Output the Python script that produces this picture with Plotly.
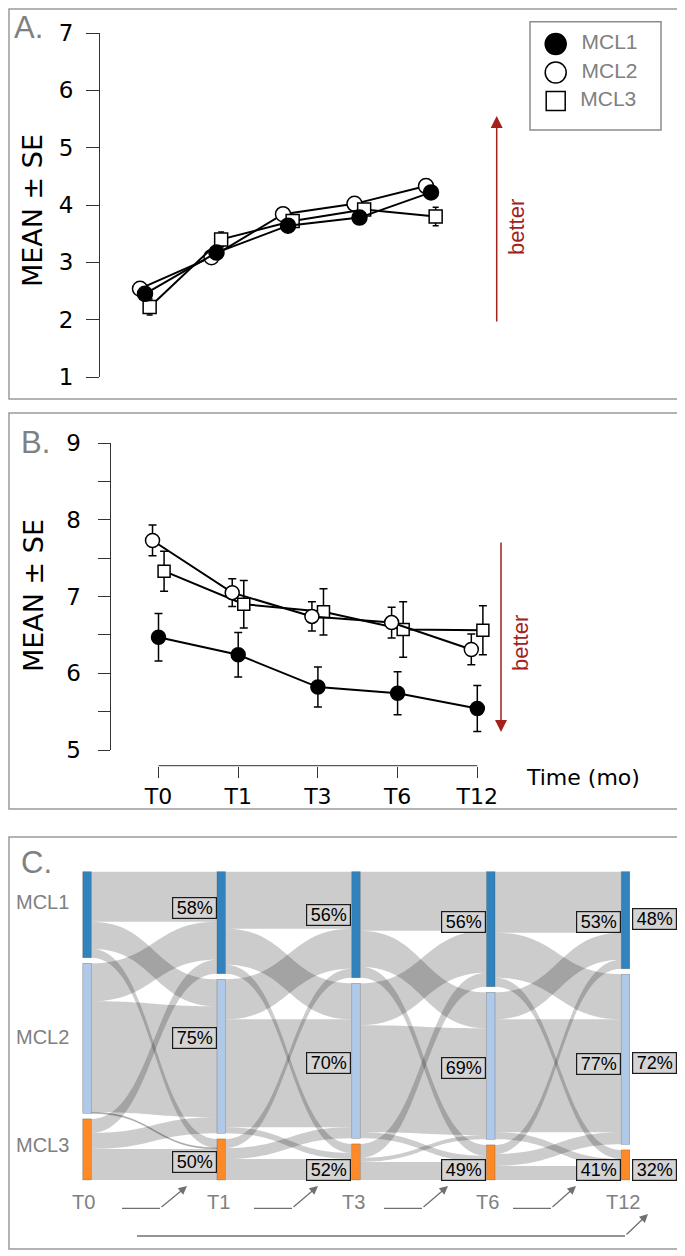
import plotly.graph_objects as go

PAGE_W, PAGE_H = 685, 1256
OFF = 8                      # default page body margin of the html page
W, H = PAGE_W - OFF, PAGE_H - OFF

# ---------------- data ----------------
times = ["T0", "T1", "T3", "T6", "T12"]
clusters = ["MCL1", "MCL2", "MCL3"]

# Panel A (higher = better)
a_mcl1 = [2.45, 3.17, 3.64, 3.78, 4.22]
a_mcl2 = [2.54, 3.09, 3.84, 4.02, 4.33]
a_mcl3 = [2.22, 3.40, 3.72, 3.92, 3.80]
a_se1 = [0.07, 0.06, 0.05, 0.05, 0.06]
a_se2 = [0.06, 0.05, 0.05, 0.05, 0.05]
a_se3 = [0.14, 0.13, 0.08, 0.08, 0.16]

# Panel B (lower = better)
b_mcl1 = [6.47, 6.24, 5.82, 5.74, 5.54]
b_mcl2 = [7.73, 7.05, 6.74, 6.66, 6.31]
b_mcl3 = [7.33, 6.90, 6.80, 6.57, 6.56]
b_se1 = [0.31, 0.29, 0.26, 0.28, 0.30]
b_se2 = [0.20, 0.18, 0.19, 0.20, 0.20]
b_se3 = [0.26, 0.31, 0.30, 0.36, 0.32]

# Panel C: transitions between clusters (rows = from, cols = to)
flow_t0_t1 = [[50, 27, 9], [38, 111, 1], [14, 16, 31]]
flow_t1_t3 = [[57, 36, 9], [40, 108, 6], [9, 11, 21]]
flow_t3_t6 = [[59, 36, 11], [42, 107, 6], [14, 4, 18]]
flow_t6_t12 = [[61, 45, 9], [27, 113, 7], [9, 12, 14]]
flows = [flow_t0_t1, flow_t1_t3, flow_t3_t6, flow_t6_t12]

stay_pct = [[58, 75, 50], [56, 70, 52], [56, 69, 49], [53, 77, 41]]
stay_pct_t0_t12 = [48, 72, 32]

node_colors = ["#3182bd", "#b1c9e9", "#fd8a26"]

# ---------------- helpers (page pixel -> paper fraction) ----------------
def px(x):
    return (x - OFF) / W

def py(y):
    return 1 - (y - OFF) / H

BLACK = "#000000"
AXC = "#333333"
GREY = "#808080"
RED = "#a3201b"
TICKFONT = dict(family="DejaVu Sans", size=23, color=BLACK)

fig = go.Figure()

# ---------------- Panel A ----------------
a_off = {"MCL1": 0.0, "MCL2": -0.07, "MCL3": 0.065}
styles = {
    "MCL1": dict(symbol="circle", color=BLACK, size=15),
    "MCL2": dict(symbol="circle", color="white", size=15),
    "MCL3": dict(symbol="square", color="white", size=13),
}
a_series = [("MCL2", a_mcl2, a_se2), ("MCL3", a_mcl3, a_se3), ("MCL1", a_mcl1, a_se1)]
for name, vals, se in a_series:
    st = styles[name]
    fig.add_trace(go.Scatter(
        x=[i + a_off[name] for i in range(len(times))], y=vals, name=name,
        error_y=dict(type="data", array=se, color=BLACK, thickness=1.5, width=3),
        mode="lines+markers", line=dict(color=BLACK, width=2),
        marker=dict(symbol=st["symbol"], size=st["size"], color=st["color"],
                    line=dict(color=BLACK, width=1.5)),
        showlegend=False, xaxis="x", yaxis="y", hoverinfo="skip"))

# legend (drawn in its own small hidden axes)
fig.add_trace(go.Scatter(
    x=[0, 0, 0], y=[0, 1, 2], mode="markers+text",
    text=["  " + c for c in clusters], textposition="middle right",
    textfont=dict(family="Liberation Sans", size=21, color=GREY),
    marker=dict(symbol=[styles[c]["symbol"] for c in clusters],
                size=[21, 21, 19], color=[styles[c]["color"] for c in clusters],
                opacity=1, line=dict(color=BLACK, width=1.5)),
    showlegend=False, xaxis="x3", yaxis="y3", hoverinfo="skip", cliponaxis=False))

# ---------------- Panel B ----------------
b_off = {"MCL1": 0.0, "MCL2": -0.075, "MCL3": 0.07}
b_series = [("MCL1", b_mcl1, b_se1), ("MCL3", b_mcl3, b_se3), ("MCL2", b_mcl2, b_se2)]
for name, vals, se in b_series:
    st = styles[name]
    fig.add_trace(go.Scatter(
        x=[i + b_off[name] for i in range(len(times))], y=vals, name=name,
        error_y=dict(type="data", array=se, color=BLACK, thickness=1.5, width=4),
        mode="lines+markers", line=dict(color=BLACK, width=2),
        marker=dict(symbol=st["symbol"], size=st["size"] - 1, color=st["color"],
                    line=dict(color=BLACK, width=1.5)),
        showlegend=False, xaxis="x2", yaxis="y2", hoverinfo="skip"))

# ---------------- Panel C: Sankey ----------------
n_t = len(times)
n_c = len(clusters)
col_values = [[sum(r) for r in flows[0]]]
for f in flows:
    col_values.append([sum(f[i][j] for i in range(n_c)) for j in range(n_c)])
col_total = max(sum(c) for c in col_values)

pad_px = 5.6
node_thick = 8.5
sk_top, sk_left, sk_right = 871.7, 86.5, 625.5
sk_h = col_total * 1.0 + (n_c - 1) * pad_px
sk_w = sk_right - sk_left

nx, ny, ncol, nlab = [], [], [], []
for t in range(n_t):
    cum = 0.0
    for c in range(n_c):
        v = col_values[t][c]
        nx.append(max(t / (n_t - 1), 0.001))
        ny.append((cum + c * pad_px + v / 2) / sk_h)
        cum += v
        ncol.append(node_colors[c])
        nlab.append("")

src, tgt, val = [], [], []
for k, f in enumerate(flows):
    for i in range(n_c):
        for j in range(n_c):
            src.append(k * n_c + i)
            tgt.append((k + 1) * n_c + j)
            val.append(f[i][j])

fig.add_trace(go.Sankey(
    arrangement="fixed",
    domain=dict(x=[px(sk_left), px(sk_right)], y=[py(sk_top + sk_h), py(sk_top)]),
    node=dict(label=nlab, x=nx, y=ny, pad=pad_px, thickness=node_thick,
              color=ncol, line=dict(color="rgba(60,60,60,0.45)", width=0.6)),
    link=dict(source=src, target=tgt, value=val, color="rgba(0,0,0,0.2)"),
    hoverinfo="none"))

# ---------------- layout / axes ----------------
a_dom = (100, 520)
a_t0, a_step = 145, 71.5
b_dom = (110.5, 520)
b_t0, b_step = 158.5, 79.7
b_xaxis_y = 765.7
leg_box = (530, 21.7, 661, 130)   # legend frame (px)
leg_mark_x, leg_row0, leg_row_step = 555.7, 44, 28.5

layout = dict(
    width=W, height=H, autosize=False,
    margin=dict(l=0, r=0, t=0, b=0, pad=0),
    paper_bgcolor="white", plot_bgcolor="white",
    showlegend=False,
    xaxis=dict(domain=[px(a_dom[0]), px(a_dom[1])],
               range=[-(a_t0 - a_dom[0]) / a_step, (a_dom[1] - a_t0) / a_step],
               visible=False, anchor="y", automargin=False),
    yaxis=dict(domain=[py(377), py(33)], range=[1, 7], anchor="x",
               tickvals=[1, 2, 3, 4, 5, 6, 7], ticks="outside", ticklen=13,
               tickwidth=1, tickcolor=AXC, showline=True, linecolor=AXC, linewidth=1,
               showgrid=False, zeroline=False, tickfont=TICKFONT, ticklabelstandoff=8,
               automargin=False),
    xaxis2=dict(domain=[px(b_dom[0]), px(b_dom[1])],
                range=[-(b_t0 - b_dom[0]) / b_step, (b_dom[1] - b_t0) / b_step],
                anchor="free", position=py(b_xaxis_y),
                tickvals=list(range(len(times))), ticktext=times,
                ticks="outside", ticklen=11, tickwidth=1, tickcolor=AXC,
                showline=False, showgrid=False, zeroline=False,
                tickfont=dict(family="DejaVu Sans", size=22, color=BLACK),
                ticklabelstandoff=0, automargin=False),
    yaxis2=dict(domain=[py(750), py(443)], range=[5, 9], anchor="x2",
                tickvals=[5, 5.5, 6, 6.5, 7, 7.5, 8, 8.5, 9],
                ticktext=["5", "", "6", "", "7", "", "8", "", "9"],
                ticks="outside", ticklen=12, tickwidth=1, tickcolor=AXC,
                showline=True, linecolor=AXC, linewidth=1,
                showgrid=False, zeroline=False, tickfont=TICKFONT, ticklabelstandoff=12,
                automargin=False),
    xaxis3=dict(domain=[px(leg_box[0]), px(leg_box[2])],
                range=[-(leg_mark_x - leg_box[0]) / leg_row_step,
                       (leg_box[2] - leg_mark_x) / leg_row_step],
                visible=False, anchor="y3", automargin=False),
    yaxis3=dict(domain=[py(leg_box[3]), py(leg_box[1])],
                range=[(leg_box[3] - leg_row0) / leg_row_step,
                       -(leg_row0 - leg_box[1]) / leg_row_step],
                visible=False, anchor="x3", automargin=False),
)
fig.update_layout(**layout)

shapes = []
# panel frames (clamped so they stay inside the drawable area)
for (x0, y0, x1, y1) in [(5, 4, 681, 399), (5, 413, 681, 809), (5, 837, 678, 1249)]:
    x0, y0 = max(x0, OFF + 1), max(y0, OFF + 1)
    shapes.append(dict(type="rect", xref="paper", yref="paper",
                       x0=px(x0), x1=px(x1), y0=py(y1), y1=py(y0),
                       line=dict(color="#9a9a9a", width=1.5), layer="below"))
# legend frame
shapes.append(dict(type="rect", xref="paper", yref="paper",
                   x0=px(leg_box[0]), x1=px(leg_box[2]), y0=py(leg_box[3]), y1=py(leg_box[1]),
                   line=dict(color="#8c8c8c", width=1.5), layer="below"))
# panel B x-axis line (from first to last time point)
shapes.append(dict(type="line", xref="x2", yref="paper", x0=0, x1=len(times) - 1,
                   y0=py(b_xaxis_y), y1=py(b_xaxis_y), line=dict(color=AXC, width=1)))

annotations = []
def txt(text, x, y, size, color=BLACK, family="Liberation Sans", xanchor="center",
        angle=0, yanchor="middle"):
    annotations.append(dict(text=text, x=px(x), y=py(y), xref="paper", yref="paper",
                            showarrow=False, xanchor=xanchor, yanchor=yanchor,
                            textangle=angle,
                            font=dict(family=family, size=size, color=color)))

# panel letters
txt("A.", 12, 28, 31, GREY, xanchor="left")
txt("B.", 19, 442, 31, GREY, xanchor="left")
txt("C.", 19, 862, 31, GREY, xanchor="left")
# y titles
txt("MEAN ± SE", 33, 211, 27, BLACK, family="DejaVu Sans", angle=-90)
txt("MEAN ± SE", 33, 596, 27, BLACK, family="DejaVu Sans", angle=-90)
txt("Time (mo)", 583, 777, 22, BLACK, family="DejaVu Sans")
# "better" labels
txt("better", 517, 227, 22, RED, angle=-90)
txt("better", 520, 643, 22, RED, angle=-90)

# better arrows
annotations.append(dict(text="", x=px(496.7), y=py(116), xref="paper", yref="paper",
                        ax=0, ay=207, showarrow=True, arrowhead=2, arrowsize=1.6,
                        arrowwidth=1.5, arrowcolor=RED))
annotations.append(dict(text="", x=px(501), y=py(732), xref="paper", yref="paper",
                        ax=0, ay=-191, showarrow=True, arrowhead=2, arrowsize=1.6,
                        arrowwidth=1.5, arrowcolor=RED))

# Sankey node labels
for name, yy in zip(clusters, [901.7, 1036.7, 1145]):
    txt(name, 14, yy, 20, GREY, xanchor="left")
col_centers = [sk_left + t * sk_w / (n_t - 1) for t in range(n_t)]
for t, name in enumerate(times):
    txt(name, col_centers[t] - 3, 1201.7, 20, GREY)

# percentage boxes
PCTFONT = dict(family="Liberation Sans", size=18, color=BLACK)
pct_y = [[908, 1038, 1162], [914.5, 1063, 1170], [922, 1068, 1170], [922, 1064, 1170]]
for k in range(len(flows)):
    xr = col_centers[k + 1] - node_thick / 2 - 0.5
    for c in range(n_c):
        annotations.append(dict(
            text=f"{stay_pct[k][c]}%", x=px(xr), y=py(pct_y[k][c]),
            xref="paper", yref="paper", showarrow=False, xanchor="right", yanchor="middle",
            font=PCTFONT, bgcolor="#d4d4d4", bordercolor="#1a1a1a", borderwidth=1.2,
            borderpad=1, width=41, height=18))
xl = col_centers[-1] + node_thick / 2 + 2.5
for c, yy in enumerate([919, 1063, 1170]):
    annotations.append(dict(
        text=f"{stay_pct_t0_t12[c]}%", x=px(xl), y=py(yy),
        xref="paper", yref="paper", showarrow=False, xanchor="left", yanchor="middle",
        font=PCTFONT, bgcolor="#d4d4d4", bordercolor="#1a1a1a", borderwidth=1.2,
        borderpad=1, width=41, height=18))

# bent transition arrows under the Sankey
ARC = "#707070"
bent = [(122, 160, 187), (254, 292, 318), (384, 422, 448), (513, 551, 576)]
for (x0, xm, xh) in bent:
    shapes.append(dict(type="line", xref="paper", yref="paper",
                       x0=px(x0), x1=px(xm), y0=py(1208.3), y1=py(1208.3),
                       line=dict(color=ARC, width=1.3)))
    annotations.append(dict(text="", x=px(xh), y=py(1186), xref="paper", yref="paper",
                            ax=xm - xh, ay=1208.3 - 1186, showarrow=True, arrowhead=2,
                            arrowsize=1.3, arrowwidth=1.3, arrowcolor=ARC))
shapes.append(dict(type="line", xref="paper", yref="paper",
                   x0=px(137), x1=px(625), y0=py(1236), y1=py(1236),
                   line=dict(color=ARC, width=1.3)))
annotations.append(dict(text="", x=px(648), y=py(1214), xref="paper", yref="paper",
                        ax=625 - 648, ay=1236 - 1214, showarrow=True, arrowhead=2,
                        arrowsize=1.3, arrowwidth=1.3, arrowcolor=ARC))

fig.update_layout(shapes=shapes, annotations=annotations)
fig.write_html("out.html")
